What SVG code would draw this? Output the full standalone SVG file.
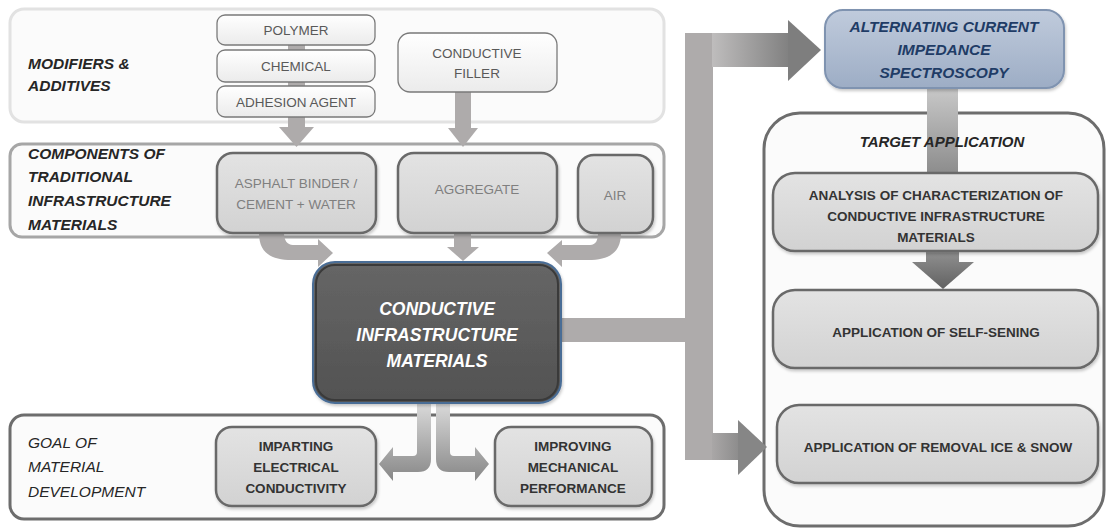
<svg xmlns="http://www.w3.org/2000/svg" width="1107" height="531" viewBox="0 0 1107 531">
  <defs>
    <style>
      text { font-family: "Liberation Sans", Arial, sans-serif; }
      .lbl { font-size: 15.5px; font-weight: bold; font-style: italic; fill: #262626; }
      .glbl { font-size: 15.5px; font-style: italic; fill: #262626; }
      .mod { font-size: 13.5px; fill: #595959; text-anchor: middle; }
      .cmp { font-size: 13.5px; fill: #7f7f7f; text-anchor: middle; }
      .bx { font-size: 13.5px; font-weight: bold; fill: #333333; text-anchor: middle; }
      .main { font-size: 17.5px; font-weight: bold; font-style: italic; fill: #ffffff; text-anchor: middle; }
      .acis { font-size: 15.5px; font-weight: bold; font-style: italic; fill: #1f3c66; text-anchor: middle; }
      .tgt { font-size: 15px; font-weight: bold; font-style: italic; fill: #262626; text-anchor: middle; }
      .panel { fill: #fbfbfb; stroke-width: 3; }
      .modbox { fill: url(#gMod); stroke: #7a7a7a; stroke-width: 1.3; }
      .graybox { fill: url(#gGray); stroke: #696969; stroke-width: 2.5; filter: url(#sh); }
      .conn { fill: #aeabab; }
    </style>
    <linearGradient id="gMod" x1="0" y1="0" x2="0" y2="1">
      <stop offset="0" stop-color="#ffffff"/>
      <stop offset="1" stop-color="#ebebeb"/>
    </linearGradient>
    <linearGradient id="gGray" x1="0" y1="0" x2="0" y2="1">
      <stop offset="0" stop-color="#e3e3e3"/>
      <stop offset="1" stop-color="#d2d2d2"/>
    </linearGradient>
    <linearGradient id="gMain" x1="0" y1="0" x2="0" y2="1">
      <stop offset="0" stop-color="#666666"/>
      <stop offset="1" stop-color="#525252"/>
    </linearGradient>
    <linearGradient id="gAcis" x1="0" y1="0" x2="0" y2="1">
      <stop offset="0" stop-color="#c0cbdc"/>
      <stop offset="1" stop-color="#9dadc5"/>
    </linearGradient>
    <linearGradient id="gDown" gradientUnits="userSpaceOnUse" x1="0" y1="403" x2="0" y2="478">
      <stop offset="0" stop-color="#dadada"/>
      <stop offset="1" stop-color="#8a8a8a"/>
    </linearGradient>
    <linearGradient id="gTopShaft" gradientUnits="userSpaceOnUse" x1="700" y1="0" x2="795" y2="0">
      <stop offset="0" stop-color="#c8c6c6"/>
      <stop offset="1" stop-color="#7c7c7c"/>
    </linearGradient>
    <linearGradient id="gBotShaft" gradientUnits="userSpaceOnUse" x1="705" y1="0" x2="745" y2="0">
      <stop offset="0" stop-color="#b1aeae"/>
      <stop offset="1" stop-color="#868686"/>
    </linearGradient>
    <linearGradient id="gBand" gradientUnits="userSpaceOnUse" x1="0" y1="88" x2="0" y2="174">
      <stop offset="0" stop-color="#c8c8c8"/>
      <stop offset="1" stop-color="#8c8c8c"/>
    </linearGradient>
    <linearGradient id="gDark" gradientUnits="userSpaceOnUse" x1="0" y1="250" x2="0" y2="290">
      <stop offset="0" stop-color="#929292"/>
      <stop offset="1" stop-color="#606060"/>
    </linearGradient>
    <filter id="sh" x="-10%" y="-10%" width="120%" height="130%">
      <feDropShadow dx="1" dy="2" stdDeviation="1.5" flood-color="#000" flood-opacity="0.22"/>
    </filter>
  </defs>

  <rect width="1107" height="531" fill="#ffffff"/>

  <!-- section panels -->
  <g id="panel-modifiers">
    <rect class="panel" x="10" y="9" width="654" height="113" rx="14" stroke="#e2e2e2"/>
    <text class="lbl" x="28" y="69">MODIFIERS &amp;</text>
    <text class="lbl" x="28" y="91">ADDITIVES</text>
  </g>
  <g id="panel-components">
    <rect class="panel" x="10" y="144" width="654" height="93" rx="12" stroke="#a6a6a6"/>
    <text class="lbl" x="28" y="159">COMPONENTS OF</text>
    <text class="lbl" x="28" y="182">TRADITIONAL</text>
    <text class="lbl" x="28" y="206">INFRASTRUCTURE</text>
    <text class="lbl" x="28" y="230">MATERIALS</text>
  </g>
  <g id="panel-goal">
    <rect class="panel" x="10" y="415" width="654" height="104" rx="14" stroke="#6d6d6d"/>
    <text class="glbl" x="28" y="448">GOAL OF</text>
    <text class="glbl" x="28" y="472">MATERIAL</text>
    <text class="glbl" x="28" y="497">DEVELOPMENT</text>
  </g>
  <g id="panel-target">
    <rect class="panel" x="764" y="113" width="340" height="413" rx="36" stroke="#6d6d6d"/>
  </g>

  <!-- connectors -->
  <g id="connectors">
    <!-- modifiers into components -->
    <rect class="conn" x="288" y="30" width="17" height="98"/>
    <polygon class="conn" points="279,127 314,127 296.5,147"/>
    <rect class="conn" x="455" y="92" width="16" height="37"/>
    <polygon class="conn" points="448,128 478,128 463,147"/>
    <!-- components into the central material -->
    <path class="conn" d="M259 233 C259 252 270 260 292 260 L318 260 L318 267 L333 253 L318 239 L318 245 L293 245 C287 245 284 240 284 233 Z"/>
    <rect class="conn" x="454" y="232" width="17" height="16"/>
    <polygon class="conn" points="447,247 479,247 463,261"/>
    <path class="conn" d="M621 233 C621 252 610 260 588 260 L562 260 L562 267 L547 253 L562 240 L562 245 L590 245 C596 245 598 240 598 233 Z"/>
    <!-- central material down to goals -->
    <path fill="url(#gDown)" d="M417 403 L417 452 Q417 456 413 456 L393 456 L393 447 L379 464 L393 481 L393 472 L418 472 Q431 472 431 459 L431 403 Z"/>
    <path fill="url(#gDown)" d="M450 403 L450 452 Q450 456 454 456 L475 456 L475 447 L489 464 L475 481 L475 472 L449 472 Q436 472 436 459 L436 403 Z"/>
    <!-- central material to the right column -->
    <rect class="conn" x="560" y="318" width="141" height="24"/>
    <rect class="conn" x="685" y="33" width="28" height="427"/>
    <rect fill="url(#gTopShaft)" x="712" y="33" width="77" height="34"/>
    <polygon fill="#7e7e7e" points="788,20 821,50 788,81"/>
    <rect fill="url(#gBotShaft)" x="712" y="433" width="27" height="27"/>
    <polygon fill="#868686" points="738,420 767,447 738,475"/>
    <!-- impedance spectroscopy down to analysis -->
    <rect fill="url(#gBand)" x="927" y="87" width="31" height="87"/>
    <!-- analysis down to self-sensing -->
    <rect fill="url(#gDark)" x="926" y="250" width="33" height="13"/>
    <polygon fill="url(#gDark)" points="912,262 974,262 943,289"/>
  </g>

  <g id="target-title">
    <text class="tgt" x="942" y="147">TARGET APPLICATION</text>
  </g>

  <!-- modifiers & additives -->
  <g id="node-polymer">
    <rect class="modbox" x="217" y="15" width="158" height="30" rx="8"/>
    <text class="mod" x="296" y="35">POLYMER</text>
  </g>
  <g id="node-chemical">
    <rect class="modbox" x="217" y="50" width="158" height="32" rx="8"/>
    <text class="mod" x="296" y="71">CHEMICAL</text>
  </g>
  <g id="node-adhesion">
    <rect class="modbox" x="217" y="86" width="158" height="31" rx="8"/>
    <text class="mod" x="296" y="107">ADHESION AGENT</text>
  </g>
  <g id="node-filler">
    <rect class="modbox" x="398" y="33" width="159" height="59" rx="12"/>
    <text class="mod" x="477" y="58">CONDUCTIVE</text>
    <text class="mod" x="477" y="78">FILLER</text>
  </g>

  <!-- traditional components -->
  <g id="node-binder">
    <rect class="graybox" x="217" y="153" width="159" height="80" rx="16"/>
    <text class="cmp" x="296" y="188">ASPHALT BINDER /</text>
    <text class="cmp" x="296" y="209">CEMENT + WATER</text>
  </g>
  <g id="node-aggregate">
    <rect class="graybox" x="398" y="153" width="159" height="80" rx="16"/>
    <text class="cmp" x="477" y="194">AGGREGATE</text>
  </g>
  <g id="node-air">
    <rect class="graybox" x="578" y="155" width="75" height="78" rx="16"/>
    <text class="cmp" x="615" y="200">AIR</text>
  </g>

  <!-- central material -->
  <g id="node-conductive-materials">
    <rect x="313" y="262" width="248" height="141" rx="22" fill="url(#gMain)" stroke="#4a6d96" stroke-width="2" filter="url(#sh)"/>
    <rect x="316" y="265" width="242" height="135" rx="19" fill="none" stroke="#3a3a3a" stroke-width="2"/>
    <text class="main" x="437" y="315">CONDUCTIVE</text>
    <text class="main" x="437" y="341">INFRASTRUCTURE</text>
    <text class="main" x="437" y="367">MATERIALS</text>
  </g>

  <!-- goals -->
  <g id="node-conductivity">
    <rect class="graybox" x="216" y="427" width="160" height="79" rx="16"/>
    <text class="bx" x="296" y="451">IMPARTING</text>
    <text class="bx" x="296" y="472">ELECTRICAL</text>
    <text class="bx" x="296" y="493">CONDUCTIVITY</text>
  </g>
  <g id="node-mechanical">
    <rect class="graybox" x="495" y="427" width="157" height="79" rx="16"/>
    <text class="bx" x="573" y="451">IMPROVING</text>
    <text class="bx" x="573" y="472">MECHANICAL</text>
    <text class="bx" x="573" y="493">PERFORMANCE</text>
  </g>

  <!-- measurement -->
  <g id="node-acis">
    <rect x="825" y="10" width="239" height="78" rx="18" fill="url(#gAcis)" stroke="#7f93b0" stroke-width="2" filter="url(#sh)"/>
    <text class="acis" x="944" y="32">ALTERNATING CURRENT</text>
    <text class="acis" x="944" y="55">IMPEDANCE</text>
    <text class="acis" x="944" y="78">SPECTROSCOPY</text>
  </g>

  <!-- target applications -->
  <g id="node-analysis">
    <rect class="graybox" x="773" y="173" width="325" height="78" rx="22"/>
    <text class="bx" x="936" y="200">ANALYSIS OF CHARACTERIZATION OF</text>
    <text class="bx" x="936" y="221">CONDUCTIVE INFRASTRUCTURE</text>
    <text class="bx" x="936" y="242">MATERIALS</text>
  </g>
  <g id="node-self-sensing">
    <rect class="graybox" x="773" y="290" width="325" height="78" rx="22"/>
    <text class="bx" x="936" y="337">APPLICATION OF SELF-SENING</text>
  </g>
  <g id="node-deicing">
    <rect class="graybox" x="777" y="405" width="321" height="78" rx="22"/>
    <text class="bx" x="938" y="452">APPLICATION OF REMOVAL ICE &amp; SNOW</text>
  </g>
</svg>
